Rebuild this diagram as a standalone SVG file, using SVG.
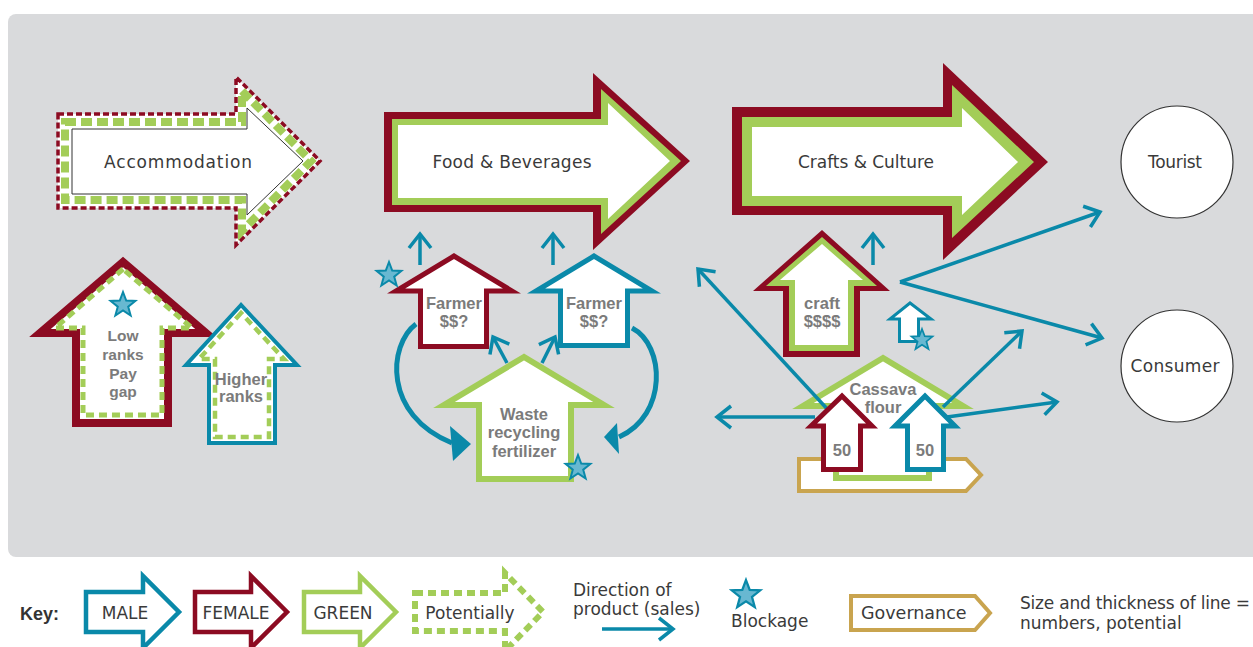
<svg xmlns="http://www.w3.org/2000/svg" xmlns:xlink="http://www.w3.org/1999/xlink" width="1253" height="647" viewBox="0 0 1253 647">
<style>
.lbl{font-family:"DejaVu Sans","Liberation Sans",sans-serif;font-size:17px;fill:#3a3a3a;text-anchor:middle}
.key{font-family:"DejaVu Sans","Liberation Sans",sans-serif;font-size:17px;fill:#3a3a3a}
.b{font-family:"Liberation Sans","DejaVu Sans",sans-serif;font-weight:bold;font-size:16.5px;fill:#7b7b7b;text-anchor:middle}
.m{fill:#fff;stroke:#8c0b22;stroke-linejoin:miter}
.t{fill:#fff;stroke:#0a89a9;stroke-linejoin:miter}
.g{fill:#fff;stroke:#a3cd58;stroke-linejoin:miter}
.gd{fill:none;stroke:#a3cd58;stroke-dasharray:8 5}
.gov{fill:#fff;stroke:#c9a44f;stroke-width:4}
.conn{fill:none;stroke:#0a89a9;stroke-width:3.5;marker-end:url(#chev)}
.curve{fill:none;stroke:#0a89a9;stroke-width:5}
.star{fill:#68b8d1;stroke:#0a89a9;stroke-width:2;stroke-linejoin:miter}
</style>
<defs>
<marker id="chev" markerUnits="userSpaceOnUse" viewBox="-20 -15 26 30" markerWidth="26" markerHeight="30" refX="0" refY="0" orient="auto">
<path d="M-14,-11 L0,0 L-14,11" fill="none" stroke="#0a89a9" stroke-width="3.5"/>
</marker>
<path id="star" d="M0,-13 L3.23,-4.45 L12.36,-4.02 L5.23,1.70 L7.64,10.52 L0,5.5 L-7.64,10.52 L-5.23,1.70 L-12.36,-4.02 L-3.23,-4.45 Z"/>
</defs>

<rect x="0" y="0" width="1253" height="647" fill="#fff"/>
<rect id="panel" x="8" y="14" width="1262" height="543" rx="8" fill="#d9dadc"/>

<g id="accommodation">
<path d="M58,114 H236 V77 L320,161 L236,245 V208 H58 Z" fill="#fff" stroke="#8c0b22" stroke-width="3.5" stroke-dasharray="6 3"/>
<path d="M65,122 H242 V91 L311,161 L242,231 V200 H65 Z" fill="none" stroke="#a3cd58" stroke-width="8" stroke-dasharray="11 5"/>
<path d="M72,129 H247 V108 L303,161 L247,215 V194 H72 Z" fill="#fff" stroke="#333" stroke-width="1"/>
<text class="lbl" x="178" y="168" textLength="148">Accommodation</text>
</g>

<g id="food">
<path d="M384,112 H593 V73 L690,161 L593,250 V212 H384 Z" fill="#8c0b22"/>
<path d="M392,119 H601 V89 L681,161 L601,234 V205 H392 Z" fill="#a3cd58"/>
<path d="M398,125 H608 V103 L670,161 L608,219 V198 H398 Z" fill="#fff"/>
<text class="lbl" x="512" y="168" textLength="159">Food &amp; Beverages</text>
</g>

<g id="crafts">
<path d="M732,107 H943 V63 L1048,162 L943,260 V215 H732 Z" fill="#8c0b22"/>
<path d="M742,117 H952 V85 L1034,162 L952,238 V206 H742 Z" fill="#a3cd58"/>
<path d="M752,127 H962 V108 L1018,162 L962,215 V196 H752 Z" fill="#fff"/>
<text class="lbl" x="866" y="168" textLength="136">Crafts &amp; Culture</text>
</g>

<g id="tourist">
<circle cx="1177" cy="162" r="56" fill="#fff" stroke="#333" stroke-width="1.2"/>
<text class="lbl" x="1175" y="168" textLength="54">Tourist</text>
</g>
<g id="consumer">
<circle cx="1177" cy="366" r="56" fill="#fff" stroke="#333" stroke-width="1.2"/>
<text class="lbl" x="1175" y="372" textLength="89">Consumer</text>
</g>

<g id="low-ranks">
<path class="m" stroke-width="8" d="M123,262 L40,333 H76 V423 H168 V333 H206 Z"/>
<path class="gd" stroke-width="5" d="M123,269 L55,328 H83 V415 H162 V328 H192 Z"/>
<text class="b" style="font-size:15.5px"><tspan x="123" y="341">Low</tspan><tspan x="123" y="360">ranks</tspan><tspan x="123" y="379">Pay</tspan><tspan x="123" y="397">gap</tspan></text>
</g>

<g id="higher-ranks">
<path class="t" stroke-width="4" d="M241,305 L186,365 H209 V443 H275 V365 H297 Z"/>
<path class="gd" stroke-width="4.5" d="M241,313 L199,359 H215 V437 H269 V359 H284 Z"/>
<text class="b"><tspan x="241" y="385">Higher</tspan><tspan x="241" y="402">ranks</tspan></text>
</g>

<g id="farmer-female">
<path class="m" stroke-width="5" d="M454,256 L396,291 H420.5 V346.5 H486.5 V291 H512 Z"/>
<text class="b"><tspan x="454" y="309">Farmer</tspan><tspan x="454" y="327">$$?</tspan></text>
</g>

<g id="farmer-male">
<path class="t" stroke-width="5" d="M594,256 L536,291 H560.5 V345.5 H627.5 V291 H652 Z"/>
<text class="b"><tspan x="594" y="309">Farmer</tspan><tspan x="594" y="327">$$?</tspan></text>
</g>

<g id="waste">
<path class="g" stroke-width="6" d="M524,357 L444,405 H479 V479 H571 V405 H604 Z"/>
<text class="b"><tspan x="524" y="420">Waste</tspan><tspan x="524" y="438">recycling</tspan><tspan x="524" y="457">fertilizer</tspan></text>
</g>

<g id="craft">
<path d="M822,230 L753,291 H783 V357 H860 V291 H890 Z" fill="#8c0b22"/>
<path d="M822,237 L766,286 H789 V351 H854 V286 H877 Z" fill="#a3cd58"/>
<path d="M822,244 L780,280 H795 V345 H848 V280 H863 Z" fill="#fff"/>
<text class="b"><tspan x="822" y="309">craft</tspan><tspan x="822" y="327">$$$$</tspan></text>
</g>

<g id="small-male">
<path class="t" stroke-width="3" d="M910,303 L890,319 H899.5 V341.5 H918.5 V319 H931 Z"/>
</g>

<g id="governance">
<path class="gov" d="M799,459 H966 L981,475 L966,491 H799 Z"/>
</g>

<g id="cassava">
<path class="g" stroke-width="6" d="M883,358 L803,406 H836 V478 H929 V406 H963 Z"/>
<text class="b"><tspan x="883" y="395">Cassava</tspan><tspan x="883" y="413">flour</tspan></text>
</g>

<g id="connectors">
<line class="conn" x1="420" y1="265" x2="420" y2="234"/>
<line class="conn" x1="553" y1="265" x2="553" y2="234"/>
<line class="conn" x1="873" y1="265" x2="873" y2="234"/>
<line class="conn" x1="507" y1="363" x2="493" y2="337"/>
<line class="conn" x1="542" y1="363" x2="555" y2="337"/>
<path class="curve" d="M416,324 C388,345 383,415 452,443"/>
<polygon points="450,426 471,444 453,461" fill="#0a89a9"/>
<path class="curve" d="M632,328 C665,345 668,415 619,437"/>
<polygon points="617,423 604,437 619,454" fill="#0a89a9"/>
<line class="conn" x1="900" y1="282" x2="1100" y2="212"/>
<line class="conn" x1="900" y1="282" x2="1102" y2="338"/>
<line class="conn" x1="830" y1="412" x2="698" y2="269"/>
<line class="conn" x1="815" y1="417" x2="717" y2="417"/>
<line class="conn" x1="943" y1="407" x2="1022" y2="331"/>
<line class="conn" x1="947" y1="417" x2="1057" y2="402"/>
</g>

<g id="female-50">
<path class="m" stroke-width="5" d="M842,396 L811,426 H823.5 V469.5 H860.5 V426 H872 Z"/>
<text class="b" x="842" y="456">50</text>
</g>
<g id="male-50">
<path class="t" stroke-width="5" d="M925,396 L895,426 H907.5 V469.5 H943.5 V426 H955 Z"/>
<text class="b" x="925" y="456">50</text>
</g>

<g id="blockages">
<use xlink:href="#star" class="star" transform="translate(123,305)"/>
<use xlink:href="#star" class="star" transform="translate(389,275)"/>
<use xlink:href="#star" class="star" transform="translate(578,468)"/>
<use xlink:href="#star" class="star" transform="translate(922,340) scale(0.85)"/>
</g>

<g id="key">
<text x="20" y="620" style="font-family:'Liberation Sans','DejaVu Sans',sans-serif;font-weight:bold;font-size:18px;fill:#333">Key:</text>
<path class="t" stroke-width="4.5" d="M86,592 H143 V576 L179,612 L143,648 V632 H86 Z"/>
<text class="lbl" x="125" y="619">MALE</text>
<path class="m" stroke-width="4.5" d="M195,592 H251 V576 L287,612 L251,648 V632 H195 Z"/>
<text class="lbl" x="236" y="619">FEMALE</text>
<path class="g" stroke-width="4.5" d="M304,592 H360 V576 L396,612 L360,648 V632 H304 Z"/>
<text class="lbl" x="343" y="619">GREEN</text>
<path class="gd" stroke-width="6" d="M415,593 H505 V573 L543,612 L505,651 V631 H415 Z"/>
<text class="lbl" x="470" y="619">Potentially</text>
<text class="key" x="573" y="596">Direction of</text>
<text class="key" x="573" y="615">product (sales)</text>
<line class="conn" x1="602" y1="629" x2="673" y2="629"/>
<use xlink:href="#star" class="star" transform="translate(746,595) scale(1.15)"/>
<text class="key" x="731" y="627">Blockage</text>
<path class="gov" d="M851,596 H975 L990,613 L975,630 H851 Z"/>
<text class="key" x="861" y="619" style="font-size:17.5px">Governance</text>
<text class="key" x="1020" y="609" textLength="230">Size and thickness of line =</text>
<text class="key" x="1020" y="629">numbers, potential</text>
</g>
</svg>
